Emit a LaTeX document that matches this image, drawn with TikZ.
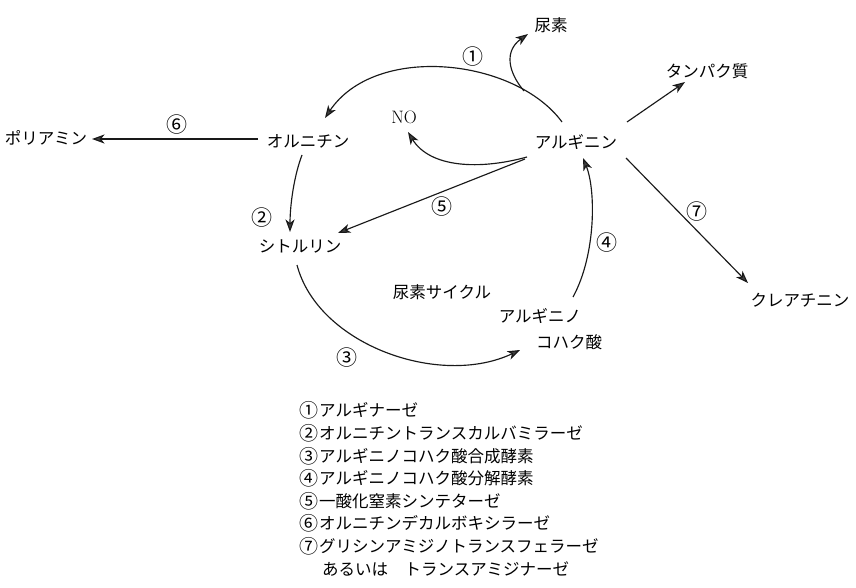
\documentclass[tikz,border=0pt]{standalone}
\usepackage{fontspec}
\newfontfamily\jp{Noto Sans CJK JP}
\newcommand{\cnum}[1]{\makebox[20pt][l]{\fontsize{19}{20}\selectfont\raisebox{-0.5pt}{#1}}}
\usetikzlibrary{arrows.meta}
\begin{document}
\begin{tikzpicture}[x=1pt,y=-1pt,
  every node/.style={inner sep=0pt, font=\jp\fontsize{16.5}{20}\selectfont},
  num/.style={font=\jp\fontsize{21}{22}\selectfont},
  leg/.style={anchor=west},
  conn/.style={line width=1.15pt, draw=black!90, -{Stealth[length=12.5pt,width=9pt,inset=3.5pt,fill=black!75]}}]
\useasboundingbox (0,0) rectangle (856,588);

% metabolites
\node (urea)  at (551,25)  {尿素};
\node (prot)  at (707,71)  {タンパク質};
\node (poly)  at (46,138)  {ポリアミン};
\node (orn)   at (308,141) {オルニチン};
\node[font=\rmfamily\fontsize{18}{20}\selectfont] (no) at (404,117) {NO};
\node (arg)   at (576,142) {アルギニン};
\node (cit)   at (300,246) {シトルリン};
\node (cyc)   at (442,292) {尿素サイクル};
\node (as1)   at (540,316) {アルギニノ};
\node (as2)   at (569,342) {コハク酸};
\node (crea)  at (800,300) {クレアチニン};

% enzyme numbers
\node[num] (n1) at (473,57)  {①};
\node[num] (n2) at (262,218) {②};
\node[num] (n3) at (347,358) {③};
\node[num] (n4) at (607,243) {④};
\node[num] (n5) at (442,207) {⑤};
\node[num] (n6) at (177,125) {⑥};
\node[num] (n7) at (697,212) {⑦};

% connector end points
\coordinate (argTop) at (562,122);
\coordinate (ornIn)  at (325,118);
\coordinate (branch) at (524,91);
\coordinate (ureaIn) at (528,34);
\coordinate (ornOut) at (302,155);
\coordinate (citIn)  at (290,232);
\coordinate (ornW)   at (258,139);
\coordinate (polyIn) at (92,139);
\coordinate (citOut) at (297,265);
\coordinate (asIn)   at (520,350);
\coordinate (asOut)  at (573,297);
\coordinate (argIn)  at (583,158);
\coordinate (argNO)  at (527,157);
\coordinate (noIn)   at (408,132);
\coordinate (argCit) at (525,159);
\coordinate (citIn2) at (338,233);
\coordinate (argNE)  at (627,122);
\coordinate (protIn) at (685,82);
\coordinate (argSE)  at (626,158);
\coordinate (creaIn) at (748,283);

% connectors
\draw[conn] (argTop) .. controls (515,58) and (375,43) .. (ornIn);
\draw[conn] (branch) .. controls (508,72) and (504,51) .. (ureaIn);
\draw[conn] (ornOut) .. controls (294,176) and (290,205) .. (citIn);
\draw[conn] (ornW) -- (polyIn);
\draw[conn] (citOut) .. controls (318,345) and (440,388) .. (asIn);
\draw[conn] (asOut) .. controls (596,255) and (596,190) .. (argIn);
\draw[conn] (argNO) .. controls (480,170) and (430,168) .. (noIn);
\draw[conn] (argCit) -- (citIn2);
\draw[conn] (argNE) -- (protIn);
\draw[conn] (argSE) -- (creaIn);

% legend
\node[leg] (l1) at (299,410) {\cnum{①}アルギナーゼ};
\node[leg] (l2) at (299,433) {\cnum{②}オルニチントランスカルバミラーゼ};
\node[leg] (l3) at (299,456) {\cnum{③}アルギニノコハク酸合成酵素};
\node[leg] (l4) at (299,478) {\cnum{④}アルギニノコハク酸分解酵素};
\node[leg] (l5) at (299,501) {\cnum{⑤}一酸化窒素シンテターゼ};
\node[leg] (l6) at (299,523) {\cnum{⑥}オルニチンデカルボキシラーゼ};
\node[leg] (l7) at (299,546) {\cnum{⑦}グリシンアミジノトランスフェラーゼ};
\node[leg] (l8) at (322,569) {あるいは\hspace{1em}トランスアミジナーゼ};
\end{tikzpicture}
\end{document}
